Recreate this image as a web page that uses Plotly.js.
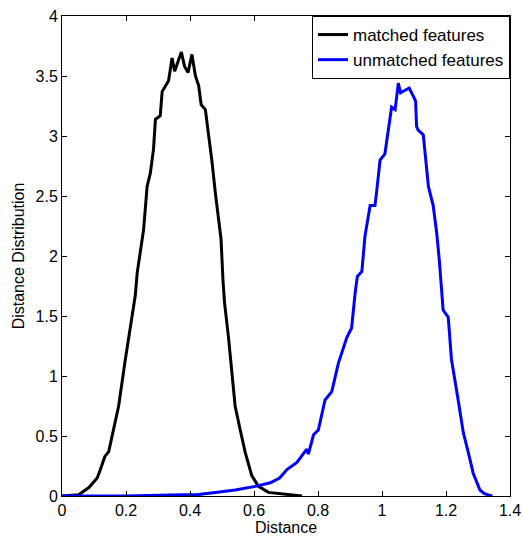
<!DOCTYPE html>
<html>
<head>
<meta charset="utf-8">
<script src="https://cdn.plot.ly/plotly-3.0.1.min.js"></script>
<style>html,body{margin:0;padding:0;background:#fff;}#chart{width:523px;height:542px;}</style>
</head>
<body>
<div id="chart"></div>
<script>
const matchedX = [0, 0.03, 0.052, 0.084, 0.11, 0.12, 0.134, 0.146, 0.162, 0.177, 0.198, 0.214, 0.229, 0.235, 0.245, 0.255, 0.266, 0.276, 0.286, 0.292, 0.307, 0.313, 0.333, 0.344, 0.352, 0.373, 0.383, 0.394, 0.406, 0.417, 0.427, 0.435, 0.448, 0.458, 0.469, 0.479, 0.489, 0.497, 0.503, 0.508, 0.52, 0.531, 0.541, 0.557, 0.573, 0.593, 0.614, 0.645, 0.707, 0.75];
const matchedY = [0, 0.005, 0.01, 0.07, 0.15, 0.22, 0.33, 0.37, 0.58, 0.75, 1.14, 1.41, 1.67, 1.86, 2.03, 2.22, 2.58, 2.69, 2.89, 3.14, 3.17, 3.37, 3.46, 3.65, 3.54, 3.70, 3.58, 3.53, 3.68, 3.50, 3.42, 3.26, 3.22, 3.03, 2.78, 2.53, 2.33, 2.14, 1.80, 1.61, 1.33, 1.03, 0.75, 0.55, 0.36, 0.17, 0.08, 0.03, 0.01, 0];

const unmatchedX = [0, 0.2, 0.375, 0.42, 0.479, 0.541, 0.604, 0.651, 0.68, 0.703, 0.734, 0.755, 0.765, 0.77, 0.786, 0.801, 0.822, 0.843, 0.864, 0.89, 0.905, 0.916, 0.923, 0.937, 0.947, 0.963, 0.978, 0.983, 0.994, 1.009, 1.02, 1.03, 1.041, 1.051, 1.058, 1.066, 1.085, 1.098, 1.105, 1.108, 1.113, 1.129, 1.139, 1.145, 1.16, 1.171, 1.179, 1.181, 1.191, 1.207, 1.217, 1.238, 1.254, 1.27, 1.285, 1.306, 1.32, 1.337, 1.345];
const unmatchedY = [0, 0, 0.01, 0.01, 0.03, 0.05, 0.08, 0.11, 0.15, 0.22, 0.28, 0.36, 0.39, 0.35, 0.51, 0.55, 0.80, 0.87, 1.11, 1.32, 1.40, 1.69, 1.83, 1.87, 2.17, 2.42, 2.42, 2.53, 2.80, 2.85, 3.05, 3.24, 3.22, 3.44, 3.36, 3.37, 3.40, 3.33, 3.29, 3.08, 3.05, 3.01, 2.72, 2.58, 2.42, 2.19, 1.97, 1.89, 1.55, 1.49, 1.14, 0.80, 0.53, 0.36, 0.19, 0.05, 0.02, 0.005, 0];

const seriesNames = ['matched features', 'unmatched features'];
const xTicks = [0, 0.2, 0.4, 0.6, 0.8, 1, 1.2, 1.4];
const yTicks = [0, 0.5, 1, 1.5, 2, 2.5, 3, 3.5, 4];

const font = {family: 'Liberation Sans, Arial, sans-serif', size: 16, color: '#000'};
const titleFont = {family: 'Liberation Sans, Arial, sans-serif', size: 16, color: '#000'};

const traces = [
  {x: matchedX, y: matchedY, name: seriesNames[0], type: 'scatter', mode: 'lines',
   line: {color: '#000000', width: 3}},
  {x: unmatchedX, y: unmatchedY, name: seriesNames[1], type: 'scatter', mode: 'lines',
   line: {color: '#0000ff', width: 3}}
];

const axisCommon = {
  showline: true, linecolor: '#000', linewidth: 1, mirror: 'allticks',
  ticks: 'inside', ticklen: 5, tickcolor: '#000', tickwidth: 1,
  showgrid: false, zeroline: false, tickfont: font
};

const layout = {
  width: 523, height: 542,
  margin: {l: 62, r: 13, t: 16, b: 46},
  paper_bgcolor: '#fff', plot_bgcolor: '#fff',
  font: font,
  showlegend: true,
  xaxis: Object.assign({}, axisCommon, {
    range: [0, 1.4], tickvals: xTicks, ticktext: xTicks.map(String),
    title: {text: 'Distance', font: titleFont, standoff: 1}
  }),
  yaxis: Object.assign({}, axisCommon, {
    range: [0, 4], tickvals: yTicks, ticktext: yTicks.map(String),
    title: {text: 'Distance Distribution', font: titleFont, standoff: 6}
  }),
  legend: {
    x: 1, xanchor: 'right', y: 1, yanchor: 'top',
    bgcolor: '#fff', bordercolor: '#000', borderwidth: 1,
    font: {family: 'Liberation Sans, Arial, sans-serif', size: 17, color: '#000'},
    tracegroupgap: 0, itemwidth: 30
  }
};

Plotly.newPlot('chart', traces, layout, {staticPlot: true, displayModeBar: false});
</script>
</body>
</html>
